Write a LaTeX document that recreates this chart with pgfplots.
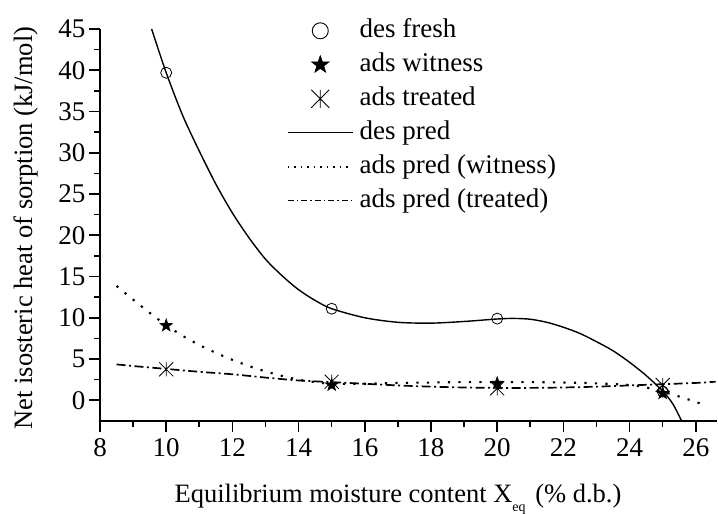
\documentclass[border=0pt]{standalone}
\usepackage{fontspec}
\setmainfont{Liberation Serif}
\usepackage{pgfplots}
\pgfplotsset{compat=1.18}
\usetikzlibrary{plotmarks}

\pgfdeclareplotmark{fstar}{%
  \pgfpathmoveto{\pgfqpointpolar{90}{\pgfplotmarksize}}%
  \pgfpathlineto{\pgfqpointpolar{126}{0.4\pgfplotmarksize}}%
  \pgfpathlineto{\pgfqpointpolar{162}{\pgfplotmarksize}}%
  \pgfpathlineto{\pgfqpointpolar{198}{0.4\pgfplotmarksize}}%
  \pgfpathlineto{\pgfqpointpolar{234}{\pgfplotmarksize}}%
  \pgfpathlineto{\pgfqpointpolar{270}{0.4\pgfplotmarksize}}%
  \pgfpathlineto{\pgfqpointpolar{306}{\pgfplotmarksize}}%
  \pgfpathlineto{\pgfqpointpolar{342}{0.4\pgfplotmarksize}}%
  \pgfpathlineto{\pgfqpointpolar{18}{\pgfplotmarksize}}%
  \pgfpathlineto{\pgfqpointpolar{54}{0.4\pgfplotmarksize}}%
  \pgfpathclose\pgfusepathqfillstroke}
\pgfdeclareplotmark{ast}{%
  \pgfpathmoveto{\pgfqpoint{0pt}{\pgfplotmarksize}}%
  \pgfpathlineto{\pgfqpoint{0pt}{-\pgfplotmarksize}}%
  \pgfpathmoveto{\pgfqpoint{-\pgfplotmarksize}{-\pgfplotmarksize}}%
  \pgfpathlineto{\pgfqpoint{\pgfplotmarksize}{\pgfplotmarksize}}%
  \pgfpathmoveto{\pgfqpoint{-\pgfplotmarksize}{\pgfplotmarksize}}%
  \pgfpathlineto{\pgfqpoint{\pgfplotmarksize}{-\pgfplotmarksize}}%
  \pgfusepathqstroke}

\pgfplotstableread{
x y
10 39.7
15 11.1
20 9.9
25 1.05
}\desfresh
\pgfplotstableread{
x y
10 9.05
15 1.85
20 2.05
25 0.85
}\adswit
\pgfplotstableread{
x y
10 3.75
15 2.25
20 1.45
25 1.85
}\adstreat
\pgfplotstableread{
x y
9.56 45
10 39.7
10.5 34.5
11 30.2
11.5 26.2
12 22.7
12.5 19.7
13 17.1
13.5 15.1
14 13.4
14.5 12.1
15 11.1
16 10.0
17 9.45
18 9.35
19 9.55
20 9.85
20.5 9.92
21 9.82
21.5 9.45
22 8.85
22.5 8.1
23 7.1
23.5 6.0
24 4.6
24.5 3.0
25 1.1
25.3 -0.4
25.57 -2.5
}\despred
\pgfplotstableread{
x y
8.5 13.85
9 12.2
9.5 10.6
10 9.1
10.5 7.8
11 6.7
11.5 5.75
12 4.9
12.5 4.15
13 3.5
13.5 2.95
14 2.5
14.5 2.2
15 2.0
16 2.0
17 2.1
18 2.15
19 2.2
20 2.2
21 2.2
22 2.15
23 2.05
24 1.85
24.5 1.55
25 1.05
25.5 0.45
26 -0.2
26.35 -0.7
}\witpred
\pgfplotstableread{
x y
8.5 4.35
9 4.15
10 3.8
11 3.45
12 3.15
13 2.75
14 2.4
15 2.2
16 2.0
17 1.8
18 1.65
19 1.55
20 1.5
21 1.5
22 1.55
23 1.65
24 1.8
25 1.95
26 2.1
26.6 2.25
}\trepred

\begin{document}
\begin{tikzpicture}
\path[use as bounding box] (0,0) rectangle (718pt,514pt);
\begin{axis}[
  at={(100pt,93.1pt)}, anchor=south west,
  scale only axis, width=617.3pt, height=391.9pt,
  xmin=8, xmax=26.65, ymin=-2.5, ymax=45,
  axis lines*=left,
  axis line style={-, line width=1.6pt},
  tick pos=left, tick align=outside,
  xtick={8,10,...,26}, ytick={0,5,...,45},
  minor x tick num=1, minor y tick num=1,
  major tick length=11pt, minor tick length=6pt,
  every tick/.style={line width=1.6pt, black},
  /pgf/number format/assume math mode=true,
  ticklabel style={font=\fontsize{27}{32}\selectfont},
  xticklabel style={yshift=-3pt},
  legend style={draw=none, fill=none, at={(0.303,1.0273)}, anchor=north west,
    inner sep=0pt, outer sep=0pt, row sep=9pt, column sep=6pt,
    nodes={inner sep=0pt, text height=19pt, text depth=6pt},
    font=\fontsize{27}{32}\selectfont},
  legend cell align=left,
  legend image code/.code={\draw[mark repeat=2,mark phase=2,#1] plot coordinates {(0pt,0pt) (32.5pt,0pt) (65pt,0pt)};},
]
\addplot[forget plot, only marks, mark=o, mark size=5.5pt, mark options={line width=0.8pt}] table {\desfresh};
\addplot[forget plot, only marks, mark=fstar, mark size=6.6pt, mark options={line width=0.6pt, fill=black}] table {\adswit};
\addplot[forget plot, only marks, mark=ast, mark size=7pt, mark options={line width=0.8pt}] table {\adstreat};
\addplot[forget plot, smooth, line width=1.4pt] table {\despred};
\addplot[forget plot, smooth, line width=2.1pt, dash pattern=on 2.2pt off 8.3pt] table {\witpred};
\addplot[forget plot, smooth, line width=1.7pt, dash pattern=on 9pt off 3.5pt on 2pt off 3.5pt] table {\trepred};

\addlegendimage{only marks, mark=o, mark size=8pt, mark options={line width=0.9pt}}
\addlegendentry{des fresh}
\addlegendimage{only marks, mark=fstar, mark size=9.2pt, mark options={line width=0.6pt, fill=black}}
\addlegendentry{ads witness}
\addlegendimage{only marks, mark=ast, mark size=9pt, mark options={line width=0.9pt}}
\addlegendentry{ads treated}
\addlegendimage{line width=1.4pt}
\addlegendentry{des pred}
\addlegendimage{line width=1.5pt, dash pattern=on 1.5pt off 5pt}
\addlegendentry{ads pred (witness)}
\addlegendimage{line width=1.4pt, dash pattern=on 6pt off 3pt on 1.5pt off 3pt}
\addlegendentry{ads pred (treated)}
\end{axis}
\node[anchor=base, font=\fontsize{26.5}{30}\selectfont] at (398pt,11pt) {Equilibrium moisture content X\raisebox{-9pt}{\fontsize{14}{16}\selectfont eq}\kern3pt\ (\% d.b.)};
\node[rotate=90, anchor=base, font=\fontsize{26.5}{30}\selectfont] at (32pt,286pt) {Net isosteric heat of sorption (kJ/mol)};
\end{tikzpicture}
\end{document}
